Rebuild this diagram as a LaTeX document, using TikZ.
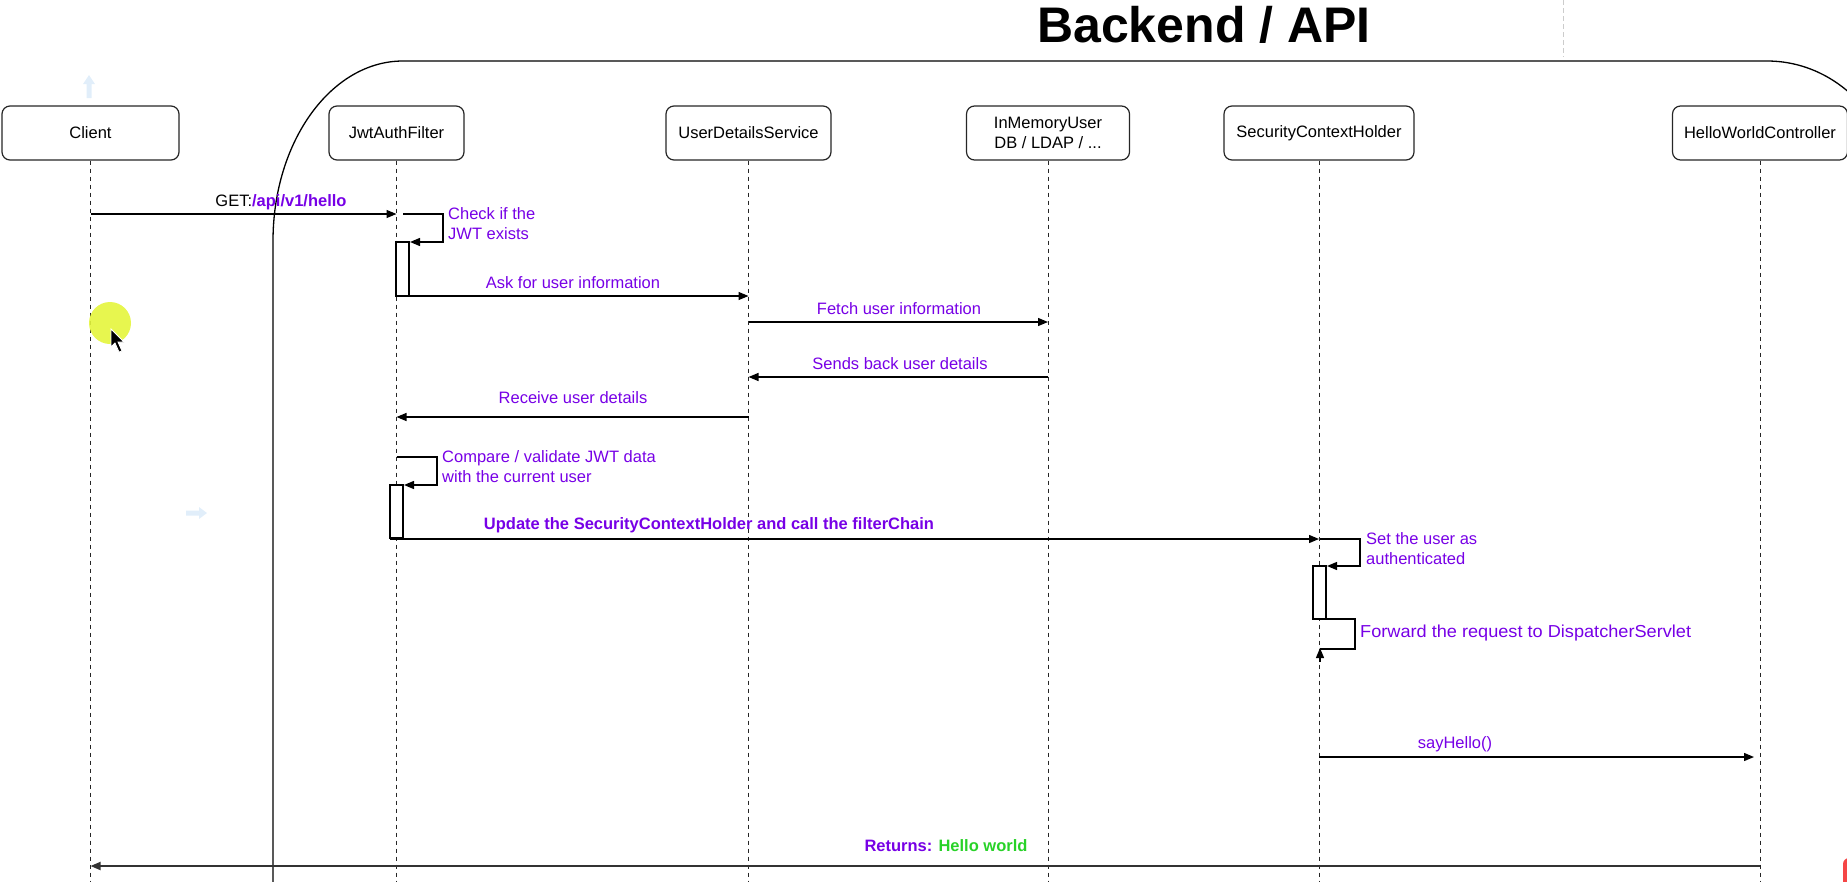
\documentclass[tikz,border=0pt]{standalone}
\usepackage{fontspec}
\setmainfont{Liberation Sans}
\usetikzlibrary{arrows.meta}
\definecolor{lblc}{RGB}{119,0,230}
\definecolor{okgreen}{RGB}{40,210,40}
\definecolor{hint}{RGB}{225,238,250}
\definecolor{cursorhl}{RGB}{228,245,60}
\definecolor{recred}{RGB}{245,70,70}
\begin{document}
\begin{tikzpicture}[x=1pt,y=-1pt,
  actor/.style={draw=black!85, line width=1.2pt, rounded corners=8pt, fill=white,
    minimum height=54pt, font=\fontsize{16.5}{20}\selectfont, align=center, inner sep=0pt},
  life/.style={draw=black!85, line width=1pt, dash pattern=on 4pt off 4pt},
  msg/.style={draw=black, line width=1.3pt, -{Triangle[length=10pt,width=8pt]}},
  lbl/.style={text=lblc, font=\fontsize{16.5}{19.5}\selectfont, inner sep=0pt},
  actbar/.style={draw=black, line width=1.2pt, fill=white},
]
\useasboundingbox (0,0) rectangle (1847,881);
\clip (0,0) rectangle (1847,881);

% faint UI artefacts
\fill[hint] (86.5,98) -- (86.5,84) -- (83,84) -- (89,75) -- (95,84) -- (91.5,84) -- (91.5,98) -- cycle;
\fill[hint] (186,510.5) -- (199,510.5) -- (199,507) -- (207,513) -- (199,519) -- (199,515.5) -- (186,515.5) -- cycle;
\draw[draw=black!20, line width=0.8pt, dash pattern=on 5pt off 3pt] (1563,0) -- (1563,57);

% Backend container
\draw[line width=1.3pt] (273,900) -- (273,241)
  arc[start angle=180, end angle=90, x radius=130pt, y radius=180pt]
  -- (1767,61)
  arc[start angle=90, end angle=0, x radius=130pt, y radius=140pt]
  -- (1897,900);
\node[font=\fontsize{50}{60}\selectfont\bfseries, anchor=base, inner sep=0pt] (title) at (1204,42) {Backend / API};

% participants
\node[actor, minimum width=177pt] (client) at (90.5,133) {Client};
\node[actor, minimum width=135pt] (jwt) at (396.5,133) {JwtAuthFilter};
\node[actor, minimum width=165pt] (uds) at (748.5,133) {UserDetailsService};
\node[actor, minimum width=163pt] (inmem) at (1048,133) {InMemoryUser\\DB / LDAP / ...};
\node[actor, minimum width=190pt] (sch) at (1319,133) {SecurityContextHolder};
\node[actor, minimum width=175pt] (hwc) at (1760,133) {HelloWorldController};

% lifelines
\foreach \n in {client,jwt,uds,inmem,sch,hwc}{
  \draw[life] (\n.south) -- (\n.south |- 0,881);
}

% 1 GET
\draw[msg] (client |- 0,214) -- (jwt |- 0,214);
\node[anchor=base, inner sep=0pt, font=\fontsize{16.5}{19.5}\selectfont] (getlbl) at (281,206) {GET:\textcolor{lblc}{\bfseries/api/v1/hello}};

% 2 check JWT
\draw[msg] (403,214) -| (443,242) -- (410,242);
\draw[actbar] (396,242) rectangle (409,296);
\node[lbl, anchor=west, align=left] (chk) at (448,223.5) {Check if the\\JWT exists};

% 3 ask
\draw[msg] (jwt |- 0,296) -- (uds |- 0,296);
\node[lbl] (askl) at (573,283) {Ask for user information};

% 4 fetch
\draw[msg] (uds |- 0,322) -- (inmem |- 0,322);
\node[lbl] (fetchl) at (899,309) {Fetch user information};

% 5 sends back
\draw[msg] (inmem |- 0,377) -- (uds |- 0,377);
\node[lbl] (sendl) at (900,364) {Sends back user details};

% 6 receive
\draw[msg] (uds |- 0,417) -- (jwt |- 0,417);
\node[lbl] (recl) at (573,398) {Receive user details};

% 7 compare
\draw[msg] (jwt |- 0,457) -| (437,485) -- (404,485);
\draw[actbar] (390,485) rectangle (403,538);
\node[lbl, anchor=west, align=left] (cmpl) at (442,466.5) {Compare / validate JWT data\\with the current user};

% 8 update
\draw[msg] (390,539) -- (sch |- 0,539);
\node[lbl, font=\fontsize{16.5}{19.5}\selectfont\bfseries] (updl) at (709,525) {Update the SecurityContextHolder and call the filterChain};

% 9 set authenticated
\draw[msg] (1320,539) -| (1360,566) -- (1327,566);
\draw[actbar] (1313,566) rectangle (1326,619);
\node[lbl, anchor=west, align=left] (setl) at (1366,548.5) {Set the user as\\authenticated};

% 10 forward
\draw[line width=1.3pt] (1326,619) -| (1355,649) -- (1320,649);
\draw[msg] (1320,662) -- (1320,648);
\node[lbl, anchor=west] (fwdl) at (1360,633) {\scalebox{1.1}[1.05]{Forward the request to DispatcherServlet}};

% 11 sayHello
\draw[msg] (sch |- 0,757) -- (1754,757);
\node[lbl] (sayl) at (1455,744) {sayHello()};

% 12 returns
\draw[msg, line width=1.8pt, draw=black!80] (hwc |- 0,866) -- (client |- 0,866);
\node[lbl, font=\fontsize{16.5}{19.5}\selectfont\bfseries] (retl) at (946,846) {Returns: \textcolor{okgreen}{Hello world}};

% cursor highlight
\fill[cursorhl, opacity=0.9] (110,323) circle (21pt);
\filldraw[fill=black, draw=white, line width=0.8pt] (111,329) -- (111,347) -- (115,343) -- (119,352) -- (122,351) -- (118,342) -- (124,342) -- cycle;

% red artefact bottom right
\fill[recred, rounded corners=6pt] (1843,858) rectangle (1870,900);
\end{tikzpicture}
\end{document}
